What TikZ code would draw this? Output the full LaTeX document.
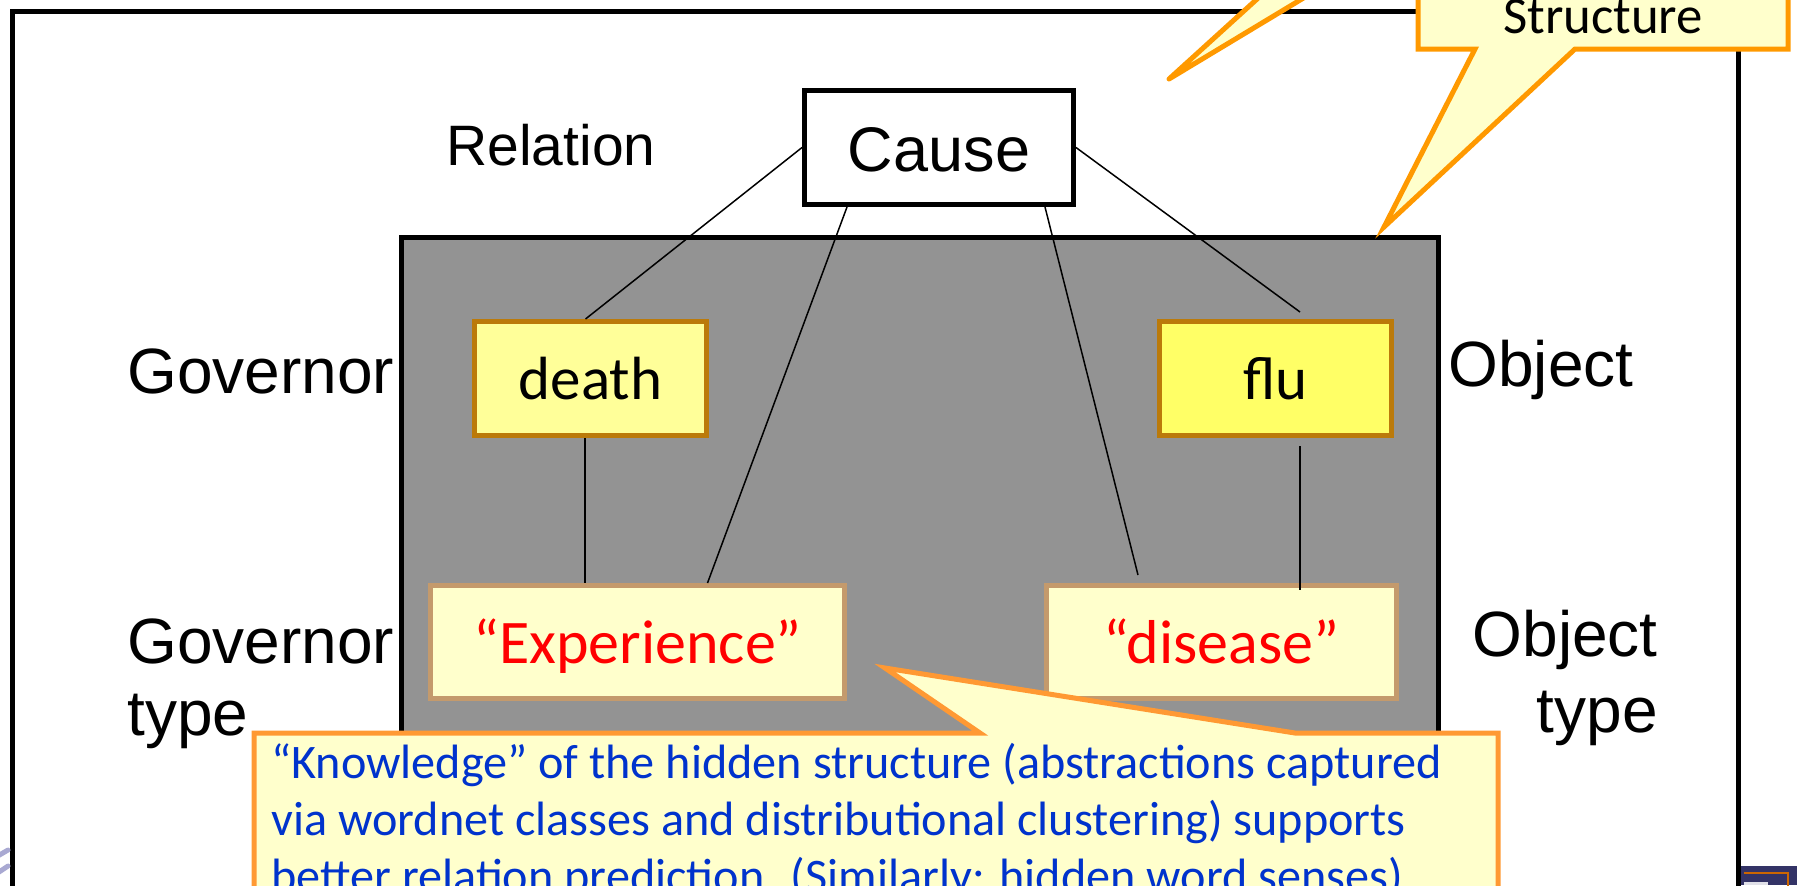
\documentclass[tikz,border=0pt]{standalone}
\usepackage{fontspec}
\setmainfont{Carlito}
\newfontfamily\arialfont{Liberation Sans}
\usetikzlibrary{calc}

\definecolor{callfill}{HTML}{FFFFCC}
\definecolor{callline}{HTML}{FF9900}
\definecolor{noteline}{HTML}{FF9933}
\definecolor{hiddengray}{HTML}{939393}
\definecolor{wordfill}{HTML}{FFFF99}
\definecolor{objfill}{HTML}{FFFF66}
\definecolor{wordline}{HTML}{BB7A0A}
\definecolor{typeline}{HTML}{C49A6C}
\definecolor{typered}{HTML}{FF0000}
\definecolor{noteblue}{HTML}{0033CC}
\definecolor{chromenavy}{HTML}{333366}
\definecolor{chromeorange}{HTML}{CC6600}
\definecolor{chromelilac}{HTML}{A9A9D2}

\tikzset{
  sidelabel/.style={inner sep=0pt, font=\arialfont\fontsize{32}{36}\selectfont},
  relbox/.style={draw=black, fill=white, line width=2.5pt, minimum width=134.5pt,
    minimum height=57pt, inner sep=0pt, text height=24pt, text depth=0pt,
    font=\arialfont\fontsize{31.5}{36}\selectfont},
  wordbox/.style={draw=wordline, line width=2.5pt, minimum width=116pt,
    minimum height=57pt, inner sep=0pt, text height=21pt, text depth=0pt,
    font=\fontsize{30.5}{36}\selectfont},
  typebox/.style={draw=typeline, fill=callfill, line width=2.5pt,
    minimum height=56.5pt, inner sep=0pt, text height=21pt, text depth=0pt,
    text=typered, font=\fontsize{31}{36}\selectfont},
  link/.style={line width=0.75pt},
  callout/.style={fill=callfill, draw=callline, line width=2.5pt, line join=round},
  notecallout/.style={fill=callfill, draw=noteline, line width=2.5pt, line join=miter}
}

\begin{document}
\begin{tikzpicture}[x=0.5pt,y=-0.5pt]
\useasboundingbox (0,0) rectangle (1797,885);
\clip (0,0) rectangle (1797,885);

% slide frame
\draw[line width=2.5pt] (12,11) rectangle (1738,960);

% fragments of the slide decoration at the lower corners
\draw[chromelilac, line width=2.5pt, line cap=round] (-4,857) -- (8,850);
\draw[chromelilac, line width=2.5pt, line cap=round] (-4,874) -- (8,866);
\fill[chromenavy] (1741,866) rectangle (1797,885);
\draw[chromeorange, line width=1.2pt] (1744,873) -- (1788,873) -- (1788,890);
\fill[white!85!chromenavy] (1744,882) rectangle (1768,885);

% hidden structure panel
\draw[line width=2.5pt, fill=hiddengray] (401,237) rectangle (1438,900);

% relation, arguments and their types
\node[relbox] (cause) at (939,147.5) {Cause};
\node[wordbox, fill=wordfill] (death) at (590.5,378.5) {death};
\node[wordbox, fill=objfill] (flu) at (1275.5,378.5) {flu};
\node[typebox, minimum width=207pt] (exp) at (637.5,642) {“Experience”};
\node[typebox, minimum width=175pt] (dis) at (1221.5,642) {“disease”};

% row labels (multi-line labels are anchored on their last line)
\node[sidelabel, anchor=base west, font=\arialfont\fontsize{28.5}{34}\selectfont]
  (lrel) at (446,165) {Relation};
\node[sidelabel, anchor=base west] (lgov) at (127,393) {Governor};
\node[sidelabel, anchor=base west, align=left, font=\arialfont\fontsize{32}{36}\selectfont]
  (lgovtype) at (127,735) {Governor\\type};
\node[sidelabel, anchor=base west] (lobj) at (1448,386) {Object};
\node[sidelabel, anchor=base east, align=right, font=\arialfont\fontsize{32}{38}\selectfont]
  (lobjtype) at (1658,732) {Object\\type};

% connectors
\draw[link] (cause.west) -- ($(death.north)+(-5,0)$);
\draw[link] ($(cause.south)+(-92,0)$) -- ($(exp.north)+(70,0)$);
\draw[link] ($(cause.south)+(106,0)$) -- ($(dis.north)+(-83.5,-8)$);
\draw[link] (cause.east) -- ($(flu.north)+(24.5,-7)$);
\draw[link] ($(death.south)+(-5.5,0)$) -- ($(exp.north)+(-52.5,0)$);
\draw[link] ($(flu.south)+(24.5,8)$) -- ($(dis.north)+(78.5,7)$);

% callouts
\filldraw[callout] (1169,79) -- (1289,-30) -- (1350,-30) -- cycle;
\filldraw[callout, line join=miter] (1418,-30) -- (1418,49) -- (1475,49) -- (1384,227)
  -- (1575,49) -- (1788,49) -- (1788,-30) -- cycle;
\node[anchor=base, inner sep=0pt, font=\fontsize{26.4}{30}\selectfont] (structure)
  at (1603,33) {Structure};

\filldraw[notecallout] (254,733) -- (980,733) -- (885,668) -- (1295,733)
  -- (1498,733) -- (1498,960) -- (254,960) -- cycle;
\node[anchor=base west, align=left, inner sep=0pt, text=noteblue,
  font=\fontsize{24.1}{28.5}\selectfont] (note) at (271,892)
  {“Knowledge” of the hidden structure (abstractions captured\\
   via wordnet classes and distributional clustering) supports\\
   better relation prediction. (Similarly: hidden word senses)};
\end{tikzpicture}
\end{document}
